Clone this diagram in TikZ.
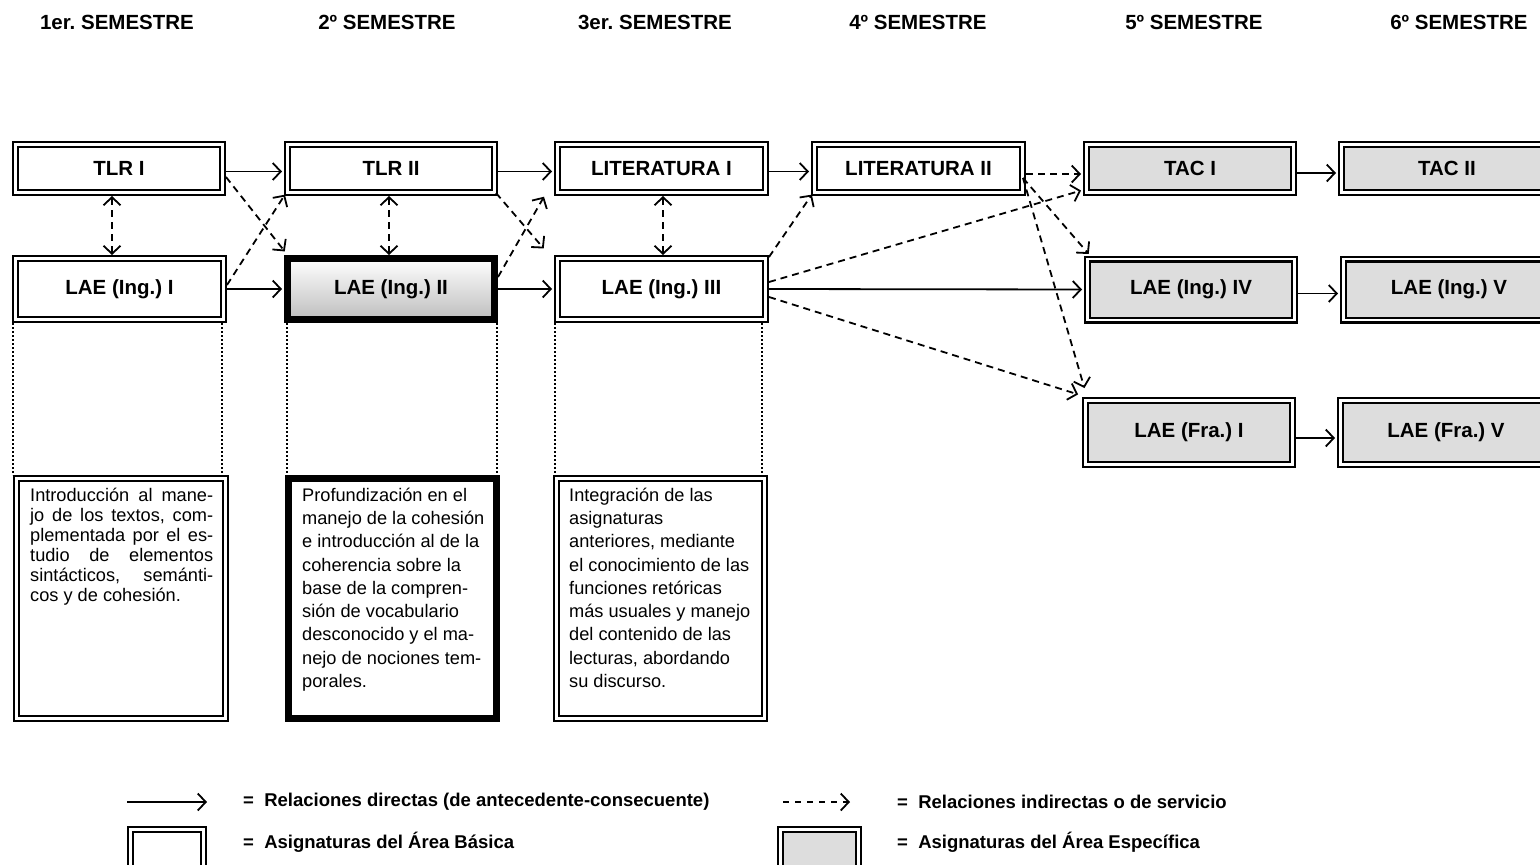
\documentclass[tikz,border=0pt]{standalone}
\usepackage{fontspec}
\setmainfont{Liberation Sans}
\usetikzlibrary{arrows.meta,calc}
\definecolor{areagray}{RGB}{221,221,221}
\definecolor{shadegray}{RGB}{190,190,190}
\frenchspacing
\begin{document}
\begin{tikzpicture}[x=1pt,y=-1pt,
  subj/.style={draw=black, line width=2.3pt, double=white, double distance=2.4pt, inner sep=0pt, outer sep=3.5pt, font=\fontsize{20.5}{24}\selectfont\bfseries, align=center},
  spec/.style={subj, fill=areagray},
  heavy/.style={draw=black, line width=7pt, inner sep=0pt, outer sep=3.5pt, font=\fontsize{20.5}{24}\selectfont\bfseries, align=center},
  hdr/.style={inner sep=0pt, font=\fontsize{20.5}{24}\selectfont\bfseries},
  desc/.style={inner sep=0pt, anchor=north west, align=left, font=\fontsize{18.2}{23.3}\selectfont},
  leg/.style={anchor=west, inner sep=0pt, font=\fontsize{18.5}{22}\selectfont\bfseries},
  dir/.style={line width=1.8pt, -{Straight Barb[length=8pt,width=17pt]}, shorten >=2pt},
  ind/.style={dir, dash pattern=on 7pt off 5pt},
  both/.style={line width=1.8pt, dash pattern=on 7pt off 5pt, {Straight Barb[length=8pt,width=17pt]}-{Straight Barb[length=8pt,width=17pt]}},
  dots/.style={line width=1.8pt, dash pattern=on 1.8pt off 2.2pt},
]
\useasboundingbox (0,0) rectangle (1540,865);
\fill[white] (0,0) rectangle (1540,865);
\clip (0,0) rectangle (1540,865);

% headers
\node[hdr] (h1) at (117,22) {1er. SEMESTRE};
\node[hdr] (h2) at (387,22) {2º SEMESTRE};
\node[hdr] (h3) at (655,22) {3er. SEMESTRE};
\node[hdr] (h4) at (918,22) {4º SEMESTRE};
\node[hdr] (h5) at (1194,22) {5º SEMESTRE};
\node[hdr] (h6) at (1459,22) {6º SEMESTRE};

% row 1
\node[subj, minimum width=207, minimum height=48] (TLRI) at (119,168.5) {TLR I};
\node[subj, minimum width=207, minimum height=48] (TLRII) at (391,168.5) {TLR II};
\node[subj, minimum width=208, minimum height=48] (LITI) at (661.5,168.5) {LITERATURA I};
\node[subj, minimum width=208, minimum height=48] (LITII) at (918.5,168.5) {LITERATURA II};
\node[spec, minimum width=207, minimum height=48] (TACI) at (1190,168.5) {TAC I};
\node[spec, minimum width=211, minimum height=48] (TACII) at (1447,168.5) {TAC II};

% row 2
\node[subj, minimum width=208, minimum height=61] (LAEI) at (119.5,289) {LAE (Ing.) I};
\node[heavy, top color=white, bottom color=shadegray, minimum width=207, minimum height=61] (LAEII) at (391,289) {LAE (Ing.) II};
\node[subj, minimum width=208, minimum height=61] (LAEIII) at (661.5,289) {LAE (Ing.) III};
\node[spec, minimum width=207, minimum height=61] (LAEIV) at (1191,289.5) {LAE (Ing.) IV};
\node[spec, minimum width=211, minimum height=61] (LAEV) at (1449,289.5) {LAE (Ing.) V};

% row 3
\node[spec, minimum width=207, minimum height=64] (FRAI) at (1189,432.5) {LAE (Fra.) I};
\node[spec, minimum width=211, minimum height=64] (FRAV) at (1446,432.5) {LAE (Fra.) V};

% description boxes
\node[subj, minimum width=209, minimum height=240] (D1) at (121,598.5) {};
\node[heavy, minimum width=208, minimum height=240] (D2) at (392.5,598.5) {};
\node[subj, minimum width=208, minimum height=240] (D3) at (660.5,598.5) {};

\node[desc, font=\fontsize{18.2}{20}\selectfont] (T1) at ([shift={(17,12.5)}]D1.north west) {%
\makebox[183pt][s]{Introducción al mane-}\\
\makebox[183pt][s]{jo de los textos, com-}\\
\makebox[183pt][s]{plementada por el es-}\\
\makebox[183pt][s]{tudio de elementos}\\
\makebox[183pt][s]{sintácticos, semánti-}\\
cos y de cohesión.};
\node[desc] (T2) at ([shift={(17,12.5)}]D2.north west) {%
Profundización en el\\
manejo de la cohesión\\
e introducción al de la\\
coherencia sobre la\\
base de la compren-\\
sión de vocabulario\\
desconocido y el ma-\\
nejo de nociones tem-\\
porales.};
\node[desc] (T3) at ([shift={(16,12.5)}]D3.north west) {%
Integración de las\\
asignaturas\\
anteriores, mediante\\
el conocimiento de las\\
funciones retóricas\\
más usuales y manejo\\
del contenido de las\\
lecturas, abordando\\
su discurso.};

% dotted guides
\draw[dots] ([shift={(1,0)}]LAEI.south west) -- ([shift={(1,0)}]LAEI.south west |- D1.north);
\draw[dots] ([shift={(-5,0)}]LAEI.south east) -- ([shift={(-5,0)}]LAEI.south east |- D1.north);
\draw[dots] ([shift={(3,0)}]LAEII.south west) -- ([shift={(3,0)}]LAEII.south west |- D2.north);
\draw[dots] ([shift={(-1,0)}]LAEII.south east) -- ([shift={(-1,0)}]LAEII.south east |- D2.north);
\draw[dots] ([shift={(1,0)}]LAEIII.south west) -- ([shift={(1,0)}]LAEIII.south west |- D3.north);
\draw[dots] ([shift={(-7,0)}]LAEIII.south east) -- ([shift={(-7,0)}]LAEIII.south east |- D3.north);

% direct relations
\draw[dir] ([shift={(0,3)}]TLRI.east) -- ([shift={(0,3)}]TLRII.west);
\draw[dir] ([shift={(0,3)}]TLRII.east) -- ([shift={(0,3)}]LITI.west);
\draw[dir] ([shift={(0,3)}]LITI.east) -- ([shift={(0,3)}]LITII.west);
\draw[dir] ([shift={(0,4.5)}]TACI.east) -- ([shift={(0,4.5)}]TACII.west);
\draw[dir] (LAEI.east) -- (LAEII.west);
\draw[dir] (LAEII.east) -- (LAEIII.west);
\draw[dir] (LAEIII.east) -- (LAEIV.west);
\draw[dir] ([shift={(0,4)}]LAEIV.east) -- ([shift={(0,4)}]LAEV.west);
\draw[dir] ([shift={(0,5.5)}]FRAI.east) -- ([shift={(0,5.5)}]FRAV.west);

% indirect relations
\draw[both] ([shift={(-7,0)}]TLRI.south) -- ([shift={(-7.5,0)}]LAEI.north);
\draw[both] ([shift={(-2,0)}]TLRII.south) -- ([shift={(-2,0)}]LAEII.north);
\draw[both] ([shift={(1.5,0)}]LITI.south) -- ([shift={(1.5,0)}]LAEIII.north);
\draw[ind] ([shift={(0,8.5)}]TLRI.east) -- ([shift={(2,-2)}]LAEII.north west);
\draw[ind] ([shift={(0,-4)}]LAEI.east) -- ([shift={(2,-3)}]TLRII.south west);
\draw[ind] ([shift={(-2,-3)}]TLRII.south east) -- ([shift={(-9,-5)}]LAEIII.north west);
\draw[ind] ([shift={(0,-12)}]LAEII.east) -- ([shift={(-9,-1)}]LITI.south west);
\draw[ind] ([shift={(0,2)}]LAEIII.north east) -- ([shift={(2,-3)}]LITII.south west);
\draw[ind] ([shift={(0,5.5)}]LITII.east) -- ([shift={(0,5.5)}]TACI.west);
\draw[ind] ([shift={(0,-7)}]LAEIII.east) -- ([shift={(0,-6)}]TACI.south west);
\draw[ind] ([shift={(-3,9.5)}]LITII.east) -- ([shift={(6,0)}]LAEIV.north west);
\draw[ind] ([shift={(-3,9.5)}]LITII.east) -- ([shift={(3,-7)}]FRAI.north west);
\draw[ind] ([shift={(0,8)}]LAEIII.east) -- ([shift={(-2,-2)}]FRAI.north west);

% legend
\coordinate (la) at (127,802);
\coordinate (lb) at (207,802);
\draw[dir, shorten >=0pt] (la) -- (lb);
\node[leg] (lt1) at (243,802) {=~~Relaciones directas (de antecedente-consecuente)};
\coordinate (lc) at (783,802);
\coordinate (ld) at (850,802);
\draw[ind, shorten >=0pt, dash pattern=on 6pt off 6pt] (lc) -- (ld);
\node[leg] (lt2) at (897,802) {=~~Relaciones indirectas o de servicio};
\node[subj, minimum width=73, minimum height=43] (lb1) at (167,851) {};
\node[leg] (lt3) at (243,842) {=~~Asignaturas del Área Básica};
\node[spec, minimum width=78, minimum height=43] (lb2) at (819.5,851) {};
\node[leg] (lt4) at (897,842) {=~~Asignaturas del Área Específica};
\end{tikzpicture}
\end{document}
